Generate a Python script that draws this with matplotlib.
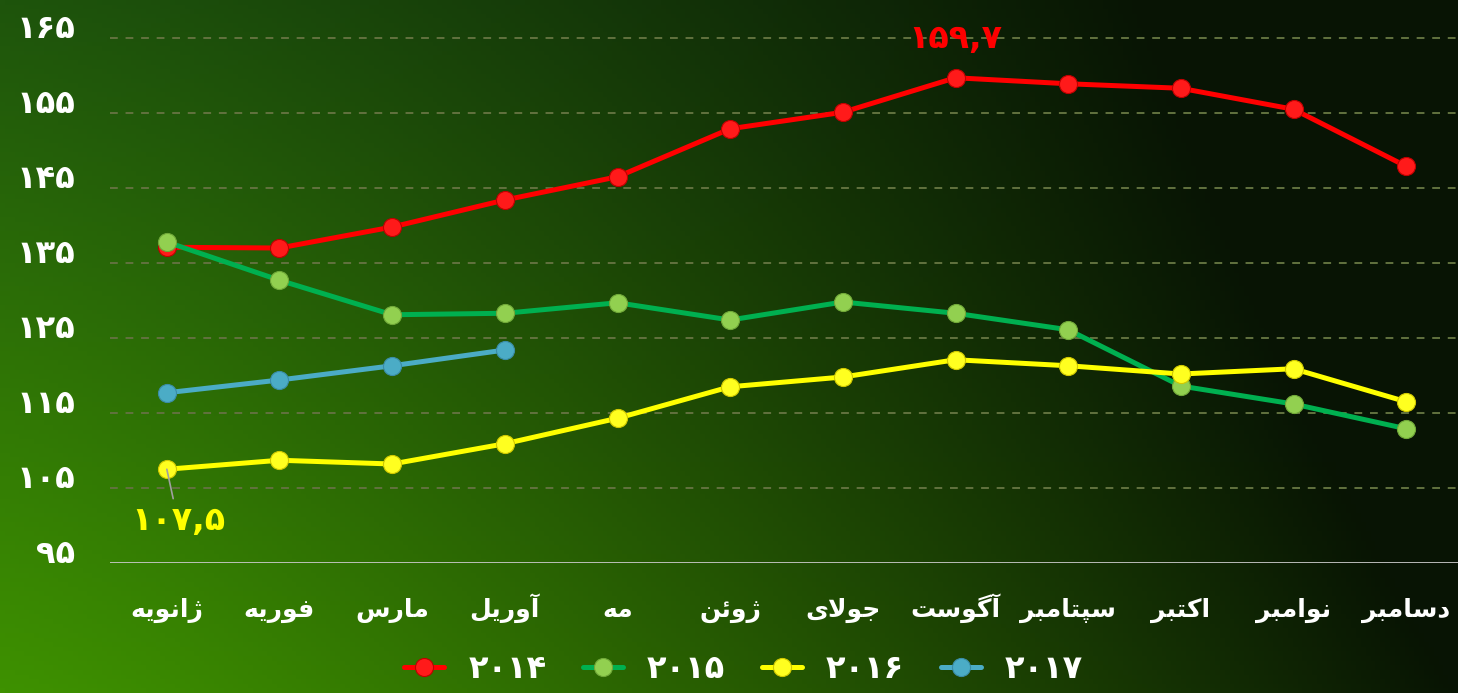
import numpy as np
import matplotlib
matplotlib.use("Agg")
import matplotlib.pyplot as plt
import matplotlib.transforms as mtransforms

# ماه ها
months = ["ژانویه", "فوریه", "مارس", "آوریل", "مه", "ژوئن",
          "جولای", "آگوست", "سپتامبر", "اکتبر", "نوامبر", "دسامبر"]

v2014 = [137.1, 137.0, 139.8, 143.4, 146.5, 152.9, 155.1, 159.7, 158.9, 158.3, 155.5, 147.9]
v2015 = [137.8, 132.7, 128.1, 128.3, 129.7, 127.4, 129.8, 128.3, 126.1, 118.6, 116.2, 112.9]
v2016 = [107.5, 108.7, 108.2, 110.9, 114.3, 118.5, 119.8, 122.1, 121.3, 120.2, 120.9, 116.5]
v2017 = [117.7, 119.4, 121.3, 123.4]

years = ["۲۰۱۴", "۲۰۱۵", "۲۰۱۶", "۲۰۱۷"]
yticks = [95, 105, 115, 125, 135, 145, 155, 165]
ytick_labels = ["۹۵", "۱۰۵", "۱۱۵", "۱۲۵", "۱۳۵", "۱۴۵", "۱۵۵", "۱۶۵"]

# --- simple arabic shaping (matplotlib has no bidi / joining) ---
# char: (isolated, final, initial, medial) ; None = does not join to next
FORMS = {
    "ا": (0xFE8D, 0xFE8E, None, None), "آ": (0xFE81, 0xFE82, None, None),
    "ب": (0xFE8F, 0xFE90, 0xFE91, 0xFE92), "پ": (0xFB56, 0xFB57, 0xFB58, 0xFB59),
    "ت": (0xFE95, 0xFE96, 0xFE97, 0xFE98), "ج": (0xFE9D, 0xFE9E, 0xFE9F, 0xFEA0),
    "د": (0xFEA9, 0xFEAA, None, None), "ر": (0xFEAD, 0xFEAE, None, None),
    "ژ": (0xFB8A, 0xFB8B, None, None), "س": (0xFEB1, 0xFEB2, 0xFEB3, 0xFEB4),
    "ف": (0xFED1, 0xFED2, 0xFED3, 0xFED4), "ک": (0xFB8E, 0xFB8F, 0xFB90, 0xFB91),
    "گ": (0xFB92, 0xFB93, 0xFB94, 0xFB95), "ل": (0xFEDD, 0xFEDE, 0xFEDF, 0xFEE0),
    "م": (0xFEE1, 0xFEE2, 0xFEE3, 0xFEE4), "ن": (0xFEE5, 0xFEE6, 0xFEE7, 0xFEE8),
    "ه": (0xFEE9, 0xFEEA, 0xFEEB, 0xFEEC), "و": (0xFEED, 0xFEEE, None, None),
    "ی": (0xFBFC, 0xFBFD, 0xFBFE, 0xFBFF), "ئ": (0xFE89, 0xFE8A, 0xFE8B, 0xFE8C),
}


def shape(word):
    chars = list(word)
    out = []
    i = 0
    while i < len(chars):
        c = chars[i]
        prev_joins = i > 0 and FORMS.get(chars[i - 1], (0, 0, None))[2] is not None
        if c == "ل" and i + 1 < len(chars) and chars[i + 1] == "ا":
            out.append(chr(0xFEFC if prev_joins else 0xFEFB))
            i += 2
            continue
        f = FORMS.get(c)
        if f is None:
            out.append(c)
            i += 1
            continue
        next_joins = f[2] is not None and i + 1 < len(chars) and chars[i + 1] in FORMS
        if prev_joins and next_joins:
            out.append(chr(f[3]))
        elif prev_joins:
            out.append(chr(f[1]))
        elif next_joins:
            out.append(chr(f[2]))
        else:
            out.append(chr(f[0]))
        i += 1
    return "".join(out[::-1])


plt.rcParams["font.family"] = ["DejaVu Sans"]

fig = plt.figure(figsize=(14.58, 6.93), dpi=100)

# background gradient
bg = fig.add_axes([0, 0, 1, 1], zorder=-5)
bg.axis("off")
nx, ny = 300, 150
gx = np.linspace(0, 1, nx)[None, :, None]
gy = np.linspace(0, 1, ny)[:, None, None]
lb = np.array([62, 145, 0]) / 255
lt = np.array([30, 84, 12]) / 255
rt = np.array([8, 20, 4]) / 255
left = lb * (1 - gy) + lt * gy
tx = np.clip(gx ** 1.25 * (1.0 + 0.35 * gy), 0, 1)
img = left * (1 - tx) + rt * tx
bg.imshow(img, origin="lower", aspect="auto", extent=[0, 1, 0, 1])

ax = fig.add_axes([0.0754, 0.1876, 0.9246, 0.8124])
ax.set_facecolor("none")

x = np.arange(len(months))
series = [
    (v2014, "#ff0000", "#ff1a1a", "#c00000"),
    (v2015, "#00b050", "#92d050", "#70a838"),
    (v2016, "#ffff00", "#ffff20", "#d0c800"),
    (v2017, "#4bacc6", "#4bacc6", "#3a8ca6"),
]
handles = []
for (vals, lc, mfc, mec), yr in zip(series, years):
    h, = ax.plot(x[:len(vals)], vals, color=lc, lw=3.6, marker="o", ms=13,
                 mfc=mfc, mec=mec, mew=0.8, label=yr, solid_capstyle="round")
    handles.append(h)

ax.set_xlim(-0.505, 11.46)
ax.set_ylim(95, 170.07)
for yv in yticks[1:]:
    ax.axhline(yv, color="#62723f", lw=1.4, ls=(0, (4, 4)), zorder=0)
ax.axhline(95, color="#c8c8c8", lw=2, zorder=1)

for s in ax.spines.values():
    s.set_visible(False)
ax.tick_params(length=0)
ax.set_yticks(yticks)
ax.set_yticklabels(ytick_labels, color="white", fontsize=23, fontweight="bold")
ax.tick_params(axis="y", pad=25)
up = mtransforms.ScaledTranslation(0, 0.12, fig.dpi_scale_trans)
for t in ax.get_yticklabels():
    t.set_transform(t.get_transform() + up)

ax.set_xticks(x)
ax.set_xticklabels([shape(m) for m in months], color="white", fontsize=18,
                   fontweight="bold", va="baseline")
ax.tick_params(axis="x", pad=39)

ax.annotate("۱۵۹,۷", xy=(7, v2014[7]), xytext=(0, 28), textcoords="offset points",
            ha="center", va="center", color="#ff0000", fontsize=24, fontweight="bold")
ax.annotate("۱۰۷,۵", xy=(0, v2016[0]), xytext=(8, -37), textcoords="offset points",
            ha="center", va="center", color="#ffff00", fontsize=24, fontweight="bold",
            arrowprops=dict(arrowstyle="-", color="#a0a0a0", lw=1.2,
                            shrinkA=2, shrinkB=0))

leg = fig.legend(handles=handles, loc="lower center", bbox_to_anchor=(0.51, -0.03),
                 ncol=4, frameon=False, handlelength=1.25, columnspacing=1.15,
                 handletextpad=0.75, prop={"size": 23, "weight": "bold"})
for t in leg.get_texts():
    t.set_color("white")

fig.savefig("out.png", dpi=100)
